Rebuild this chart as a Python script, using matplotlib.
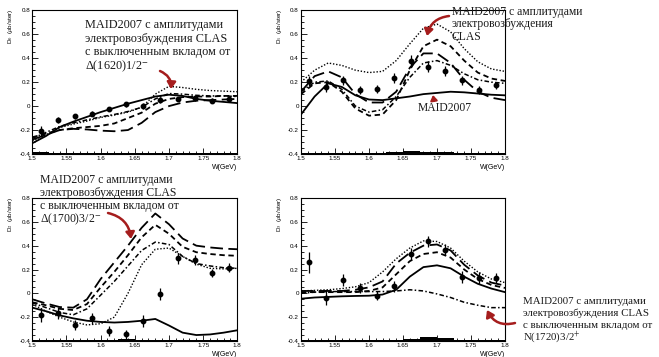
import matplotlib
matplotlib.use('Agg')
import matplotlib.pyplot as plt
from matplotlib.ticker import MultipleLocator, FuncFormatter

plt.rcParams['font.family'] = ['Liberation Sans', 'DejaVu Sans']
plt.rcParams['mathtext.fontset'] = 'stix'
plt.rcParams['axes.unicode_minus'] = False

# W grid of the model curves and of the measured points (GeV)
W_CURVE = [1.50, 1.52, 1.54, 1.56, 1.58, 1.60, 1.62, 1.64,
           1.66, 1.68, 1.70, 1.72, 1.74, 1.76, 1.78, 1.80]
W_DATA = [1.5125, 1.5375, 1.5625, 1.5875, 1.6125, 1.6375,
          1.6625, 1.6875, 1.7125, 1.7375, 1.7625, 1.7875]

# D0
D0_DATA = [-0.21, -0.115, -0.085, -0.065, -0.025, 0.015, 0.0, 0.055, 0.06, 0.065, 0.045, 0.06]
D0_ERR = [0.04, 0.025, 0.02, 0.02, 0.02, 0.02, 0.025, 0.025, 0.02, 0.02, 0.02, 0.02]
D0_SYS = [0.015, 0.012, 0.006, 0.005, 0.005, 0.005, 0.005, 0.005, 0.005, 0.005, 0.005, 0.005]
D0_SOLID = [-0.31, -0.25, -0.175, -0.13, -0.09, -0.05, -0.015, 0.02, 0.05, 0.08, 0.095, 0.085, 0.06, 0.045, 0.035, 0.025]
D0_DOT = [-0.29, -0.24, -0.18, -0.15, -0.125, -0.095, -0.075, -0.05, -0.01, 0.1, 0.165, 0.155, 0.14, 0.13, 0.125, 0.12]
D0_DASH = [-0.26, -0.23, -0.2, -0.185, -0.175, -0.165, -0.145, -0.1, -0.055, 0.02, 0.06, 0.075, 0.08, 0.08, 0.085, 0.085]
D0_LDASH = [-0.28, -0.24, -0.2, -0.19, -0.195, -0.205, -0.21, -0.2, -0.14, -0.05, 0.0, 0.03, 0.045, 0.05, 0.055, 0.06]
D0_DASHDOT = [-0.27, -0.22, -0.17, -0.14, -0.115, -0.09, -0.07, -0.045, -0.01, 0.06, 0.105, 0.1, 0.09, 0.085, 0.085, 0.08]

# D1
D1_DATA = [0.21, 0.16, 0.215, 0.135, 0.145, 0.235, 0.38, 0.33, 0.295, 0.215, 0.135, 0.175]
D1_ERR = [0.045, 0.04, 0.035, 0.035, 0.035, 0.04, 0.045, 0.045, 0.04, 0.035, 0.03, 0.03]
D1_SYS = [0.008, 0.008, 0.01, 0.01, 0.01, 0.015, 0.025, 0.02, 0.015, 0.01, 0.01, 0.01]
D1_SOLID = [-0.07, 0.08, 0.19, 0.16, 0.09, 0.055, 0.05, 0.065, 0.08, 0.1, 0.11, 0.12, 0.115, 0.105, 0.095, 0.09]
D1_DOT = [0.2, 0.3, 0.36, 0.34, 0.3, 0.28, 0.29, 0.38, 0.52, 0.65, 0.685, 0.62, 0.48, 0.37, 0.31, 0.29]
D1_DASH = [0.1, 0.19, 0.2, 0.12, -0.02, -0.08, -0.07, 0.05, 0.3, 0.5, 0.555, 0.5, 0.38, 0.28, 0.23, 0.21]
D1_LDASH = [0.12, 0.25, 0.29, 0.24, 0.1, 0.03, 0.03, 0.12, 0.32, 0.44, 0.44, 0.36, 0.22, 0.12, 0.07, 0.05]
D1_DASHDOT = [0.12, 0.2, 0.21, 0.14, 0.0, -0.05, -0.03, 0.08, 0.24, 0.36, 0.38, 0.34, 0.27, 0.22, 0.2, 0.19]

# D2
D2_DATA = [-0.18, -0.165, -0.265, -0.21, -0.315, -0.345, -0.23, -0.005, 0.295, 0.28, 0.17, 0.215]
D2_ERR = [0.06, 0.05, 0.045, 0.045, 0.045, 0.04, 0.05, 0.05, 0.045, 0.04, 0.035, 0.04]
D2_SYS = [0.005, 0.005, 0.012, 0.005, 0.012, 0.018, 0.005, 0.005, 0.012, 0.012, 0.005, 0.005]
D2_SOLID = [-0.12, -0.15, -0.185, -0.21, -0.23, -0.24, -0.245, -0.24, -0.23, -0.215, -0.27, -0.33, -0.35, -0.345, -0.33, -0.31]
D2_DOT = [-0.09, -0.15, -0.2, -0.24, -0.265, -0.255, -0.2, 0.0, 0.24, 0.37, 0.38, 0.31, 0.245, 0.21, 0.205, 0.21]
D2_DASH = [-0.075, -0.1, -0.13, -0.14, -0.09, 0.05, 0.18, 0.32, 0.47, 0.575, 0.5, 0.39, 0.345, 0.33, 0.32, 0.315]
D2_LDASH = [-0.05, -0.085, -0.115, -0.12, -0.05, 0.12, 0.26, 0.4, 0.55, 0.67, 0.58, 0.46, 0.4, 0.385, 0.375, 0.37]
D2_DASHDOT = [-0.08, -0.12, -0.16, -0.18, -0.13, -0.015, 0.1, 0.23, 0.36, 0.43, 0.41, 0.31, 0.25, 0.23, 0.215, 0.21]

# D3
D3_DATA = [0.26, -0.035, 0.11, 0.045, -0.02, 0.06, 0.33, 0.435, 0.365, 0.14, 0.125, 0.13]
D3_ERR = [0.09, 0.06, 0.05, 0.04, 0.04, 0.045, 0.05, 0.05, 0.045, 0.05, 0.05, 0.04]
D3_SYS = [0.005, 0.005, 0.005, 0.005, 0.005, 0.005, 0.02, 0.035, 0.025, 0.005, 0.005, 0.005]
D3_SOLID = [-0.045, -0.035, -0.03, -0.025, -0.022, -0.02, -0.01, 0.03, 0.14, 0.22, 0.235, 0.21, 0.14, 0.08, 0.04, 0.01]
D3_DOT = [0.02, 0.025, 0.03, 0.04, 0.055, 0.09, 0.18, 0.29, 0.38, 0.44, 0.435, 0.38, 0.27, 0.18, 0.12, 0.09]
D3_DASH = [0.01, 0.01, 0.01, 0.01, 0.01, 0.02, 0.05, 0.16, 0.27, 0.33, 0.345, 0.3, 0.2, 0.12, 0.07, 0.045]
D3_LDASH = [0.02, 0.02, 0.02, 0.02, 0.03, 0.05, 0.1, 0.25, 0.34, 0.4, 0.41, 0.36, 0.24, 0.15, 0.09, 0.065]
D3_DASHDOT = [0.0, 0.01, 0.015, 0.015, 0.015, 0.015, 0.015, 0.02, 0.03, 0.02, -0.005, -0.035, -0.075, -0.1, -0.12, -0.12]

W_PX, H_PX = 659, 357


def px(x, y):
    # pixel position (from top-left) -> figure fraction
    return x / W_PX, 1 - y / H_PX


STYLES = [
    ('solid', '-', 1.3),
    ('dot', (0, (1, 1.3)), 1.0),
    ('dash', (0, (3, 2)), 1.3),
    ('ldash', (0, (7, 3)), 1.3),
    ('dashdot', (0, (3, 1.5, 1, 1.5)), 1.1),
]

panels = [
    ((32.3, 10.3, 237.3, 154), '0', D0_DATA, D0_ERR, D0_SYS,
     [D0_SOLID, D0_DOT, D0_DASH, D0_LDASH, D0_DASHDOT]),
    ((301, 10.3, 505, 154), '1', D1_DATA, D1_ERR, D1_SYS,
     [D1_SOLID, D1_DOT, D1_DASH, D1_LDASH, D1_DASHDOT]),
    ((32.3, 198, 237.3, 341), '2', D2_DATA, D2_ERR, D2_SYS,
     [D2_SOLID, D2_DOT, D2_DASH, D2_LDASH, D2_DASHDOT]),
    ((301, 198, 505, 341), '3', D3_DATA, D3_ERR, D3_SYS,
     [D3_SOLID, D3_DOT, D3_DASH, D3_LDASH, D3_DASHDOT]),
]

fig = plt.figure(figsize=(6.59, 3.57), dpi=100)
fmt = FuncFormatter(lambda v, pos: '%g' % round(v, 3))

for (x0, y0, x1, y1), idx, data, err, sys_err, curves in panels:
    left, top = px(x0, y0)
    right, bottom = px(x1, y1)
    ax = fig.add_axes([left, bottom, right - left, top - bottom])

    # systematic band at the bottom
    ax.bar(W_DATA, sys_err, width=0.025, bottom=-0.4, color='black', linewidth=0)

    for (name, ls, lw), ys in zip(STYLES, curves):
        ax.plot(W_CURVE, ys, color='black', linestyle=ls, linewidth=lw)

    ax.errorbar(W_DATA, data, yerr=err, fmt='o', color='black', ms=3.2,
                elinewidth=0.9, capsize=0)

    ax.set_xlim(1.5, 1.8)
    ax.set_ylim(-0.4, 0.8)
    ax.xaxis.set_major_locator(MultipleLocator(0.05))
    ax.xaxis.set_minor_locator(MultipleLocator(0.01))
    ax.yaxis.set_major_locator(MultipleLocator(0.2))
    ax.yaxis.set_minor_locator(MultipleLocator(0.05))
    ax.xaxis.set_major_formatter(fmt)
    ax.yaxis.set_major_formatter(fmt)
    ax.tick_params(which='both', direction='in', top=False, right=False,
                   labelsize=4.5, width=0.6, pad=1.5)
    ax.tick_params(which='major', length=4)
    ax.tick_params(which='minor', length=2)
    for sp in ax.spines.values():
        sp.set_linewidth(0.8)

    ax.text(-0.105, 1.01, r'D$_{%s}$  ($\mu$b/ster)' % idx, transform=ax.transAxes,
            rotation=90, ha='center', va='top', fontsize=4.5)
    ax.text(1.0, -0.095, 'W(GeV)', transform=ax.transAxes, ha='right',
            va='center', fontsize=5)

TXT = '#1a1a1a'
RED = '#a51d1d'


def block(x, ys, lines, size):
    for y, s in zip(ys, lines):
        fx, fy = px(x, y)
        fig.text(fx, fy, s, ha='left', va='center', fontsize=size,
                 family='Liberation Serif', color=TXT)


def arrow(tail, head, rad, scale=6.5, lw=1.8):
    fig.add_artist(matplotlib.patches.FancyArrowPatch(
        px(*tail), px(*head), transform=fig.transFigure,
        arrowstyle='-|>,head_length=0.6,head_width=0.4',
        connectionstyle='arc3,rad=%s' % rad, mutation_scale=scale,
        color=RED, linewidth=lw, shrinkA=0, shrinkB=0))


block(85, [25, 38.7, 52.3, 66],
      ['MAID2007 с амплитудами', 'электровозбуждения CLAS',
       'с выключенным вкладом от', r'Δ(1620)1/2$^{-}$'], 8.8)
arrow((160, 71), (171, 89), -0.35)

block(452, [11.7, 24.5, 36.7],
      ['MAID2007 с амплитудами', 'электровозбуждения', 'CLAS'], 8.4)
arrow((449, 16), (427, 36), 0.35)

fx, fy = px(445, 108)
fig.text(fx, fy, 'MAID2007', ha='center', va='center', fontsize=8.4,
         family='Liberation Serif', color=TXT)
arrow((434, 101), (433, 95), 0, scale=5, lw=1.5)

block(40, [180, 193, 206, 219],
      ['MAID2007 с амплитудами', 'электровозбуждения CLAS',
       'с выключенным вкладом от', r'Δ(1700)3/2$^{-}$'], 8.5)
arrow((108, 213), (131, 239), -0.35)

block(523, [301.3, 313.5, 325.5, 337.3],
      ['MAID2007 с амплитудами', 'электровозбуждения CLAS',
       'с выключенным вкладом от', r'N(1720)3/2$^{+}$'], 7.8)
arrow((515, 323), (487, 310), -0.4)

fig.savefig('out.png', dpi=100)
